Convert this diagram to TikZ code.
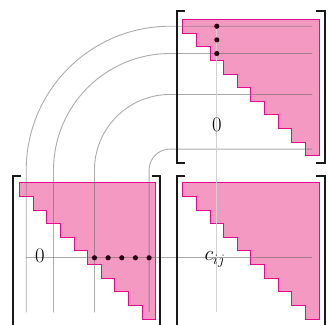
\documentclass[tikz,border=0pt]{standalone}
\definecolor{pinkfill}{RGB}{244,154,194}
\definecolor{pinkedge}{RGB}{232,10,140}
\definecolor{dotcol}{RGB}{40,0,15}
\tikzset{
  tri/.style={fill=pinkfill, draw=pinkedge, line width=1pt, line join=miter},
  guide/.style={draw=black!60, draw opacity=0.55, line width=0.9pt},
  lightguide/.style={draw=black!18, line width=1.3pt},
  brk/.style={draw=black!90, line width=2pt, line join=miter, line cap=butt},
  dotn/.style={circle, fill=dotcol, inner sep=0pt, minimum size=5.2pt},
  lbl/.style={font=\fontsize{21}{25}\selectfont, inner sep=0pt}
}
\def\s{13.65}
\newcommand{\stairfill}[2]{%
  \draw[tri] (#1,-#2) -- ++(10*\s,0) -- ++(0,-10*\s)
    \foreach \i in {1,...,9}{ -- ++(-\s,0) -- ++(0,\s)} -- ++(-\s,0) -- cycle;
}
\newcommand{\brak}[4]{%
  \draw[brk] ({#1+8.5},-#3) -- (#1,-#3) -- (#1,-#4) -- ({#1+8.5},-#4);
  \draw[brk] ({#2-8.5},-#3) -- (#2,-#3) -- (#2,-#4) -- ({#2-8.5},-#4);
}
\begin{document}
\begin{tikzpicture}[x=1pt,y=1pt]
  \useasboundingbox (0,0) rectangle (328,-324);
  \clip (0,0) rectangle (328,-324);
  % pink upper-triangular blocks
  \stairfill{182.7}{19.4}
  \stairfill{19.4}{182.7}
  \stairfill{182.7}{182.7}
  % guide lines with arcs
  \foreach \xk in {26.225,53.525,94.475,149.075}{
    \draw[guide] (\xk,-312.375) -- (\xk,-170)
      arc[start angle=180, end angle=90, radius={170-\xk}] -- (312.375,-\xk);
  }
  \coordinate (rowL) at (26.225,-257.775);
  \coordinate (rowR) at (312.375,-257.775);
  \draw[guide] (rowL) -- (rowR);
  \coordinate (colT) at (216.825,-26.225);
  \coordinate (colB) at (216.825,-312.375);
  \draw[lightguide] (colT) -- (colB);
  % dots
  \node[dotn] (b1) at (216.825,-26.225) {};
  \node[dotn] (b2) at (216.825,-39.875) {};
  \node[dotn] (b3) at (216.825,-53.525) {};
  \node[dotn] (a6) at (94.475,-257.775) {};
  \node[dotn] (a7) at (108.125,-257.775) {};
  \node[dotn] (a8) at (121.775,-257.775) {};
  \node[dotn] (a9) at (135.425,-257.775) {};
  \node[dotn] (a10) at (149.075,-257.775) {};
  % labels
  \node[lbl] (zeroB) at (216.8,-124.5) {$0$};
  \node[lbl] (zeroA) at (40,-256.2) {$0$};
  \node[lbl, anchor=base west] (cij) at (204.3,-260.9) {$c_{ij}$};
  % brackets
  \brak{176.5}{324.5}{11}{162.5}
  \brak{12.7}{160}{175.5}{327}
  \brak{176.7}{324.5}{175.5}{327}
\end{tikzpicture}
\end{document}
